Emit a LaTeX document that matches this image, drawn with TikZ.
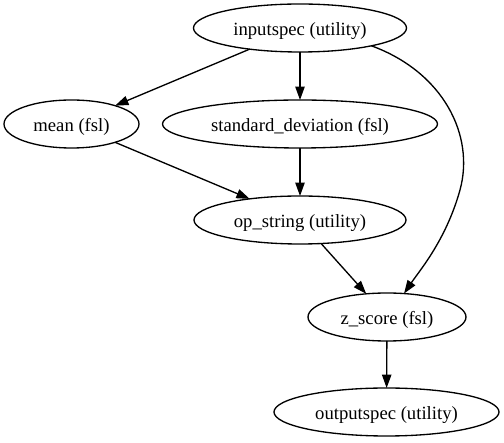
\documentclass[tikz,border=0pt]{standalone}
\usepackage{fontspec}
\setmainfont{Liberation Serif}
\usetikzlibrary{shapes.geometric,arrows.meta}
\begin{document}
\begin{tikzpicture}[x=1pt,y=-1pt,
  nd/.style={ellipse,draw,line width=1.33pt,inner sep=0pt,outer sep=0pt,minimum height=48pt,text height=16pt,text depth=0pt,font=\fontsize{18.67}{22}\selectfont},
  edge/.style={-{Triangle[length=13.3pt,width=9.3pt]},line width=1.33pt}]
\useasboundingbox (0,0) rectangle (504,443);
\node[nd,minimum width=213pt] (inputspec) at (300,28) {inputspec (utility)};
\node[nd,minimum width=135pt] (mean) at (71.5,124) {mean (fsl)};
\node[nd,minimum width=275pt] (std) at (300,124) {standard\_deviation (fsl)};
\node[nd,minimum width=212pt] (op) at (300,220) {op\_string (utility)};
\node[nd,minimum width=158pt] (z) at (387,317) {z\_score (fsl)};
\node[nd,minimum width=225pt] (out) at (386.5,412) {outputspec (utility)};
\coordinate (bend) at (460,190);
\draw[edge] (inputspec) -- (mean);
\draw[edge] (inputspec) -- (std);
\draw[edge] (mean) -- (op);
\draw[edge] (std) -- (op);
\draw[edge] (op) -- (z);
\draw[edge] (z) -- (out);
\draw[edge] (inputspec.-14) .. controls (443,72) and (475,135) .. (bend) .. controls (446,240) and (420,270) .. (z.54);
\end{tikzpicture}
\end{document}
